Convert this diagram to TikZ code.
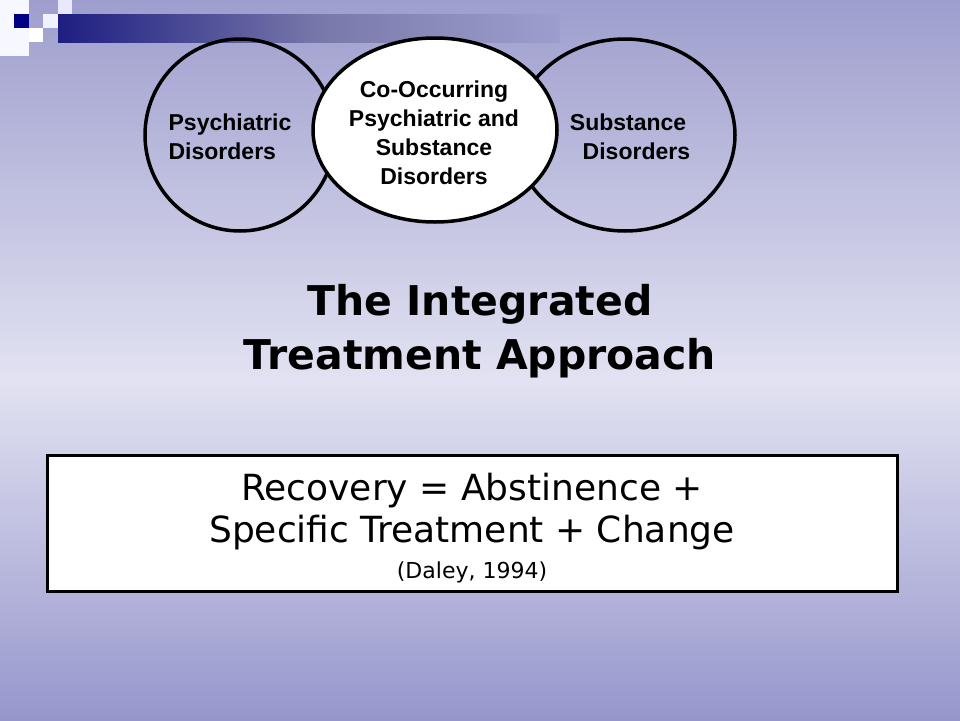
\documentclass[tikz,border=0pt]{standalone}
\usepackage{fontspec}
\setmainfont{DejaVu Sans}
\newfontfamily\arialf{Liberation Sans}
\definecolor{bgtop}{RGB}{158,158,206}
\definecolor{bgmid}{RGB}{226,226,242}
\definecolor{bgbot}{RGB}{150,150,204}
\definecolor{navy}{RGB}{0,0,130}
\definecolor{bardark}{RGB}{30,30,130}
\definecolor{barmid}{RGB}{120,120,170}
\begin{document}
\begin{tikzpicture}[x=1pt,y=-1pt,
  circ/.style={draw=black,line width=3.5pt},
  lbl/.style={font=\arialf\bfseries\fontsize{23}{29}\selectfont,align=center}]
\useasboundingbox (0,0) rectangle (960,720);
\shade[top color=bgtop,bottom color=bgmid] (0,0) rectangle (960,380);
\shade[top color=bgmid,bottom color=bgbot] (0,380) rectangle (960,720);
% corner squares
\fill[white!85!blue!20] (0,0) rectangle (29,56);
\fill[white] (29,28) rectangle (43,42);
\fill[white!70!blue!20] (43,14) rectangle (58,28);
\fill[white!70!blue!30] (58,0) rectangle (72,14);
\fill[navy] (14,14) rectangle (29,28);
\shade[left color=bardark,right color=barmid] (58,14) rectangle (320,42);
\shade[left color=barmid,right color=bgtop] (320,14) rectangle (560,42);
\draw[circ] (240,135) ellipse [x radius=95,y radius=96];
\draw[circ] (625,135) ellipse [x radius=110,y radius=96];
\draw[circ,fill=white] (435,130) ellipse [x radius=122,y radius=92];
\node[lbl,align=left] (p) at (230,137) {Psychiatric\\Disorders};
\node[lbl,align=left] (s) at (630,137) {Substance\\\ \ Disorders};
\node[lbl] (c) at (434,133) {Co-Occurring\\Psychiatric and\\Substance\\Disorders};
\node[font=\bfseries\fontsize{41}{54}\selectfont,align=center] (t) at (480,331) {The Integrated\\Treatment Approach};
\node[draw=black,line width=3pt,fill=white,minimum width=850,minimum height=136,inner sep=0] (b) at (472,523) {};
\node[align=center,font=\fontsize{36}{42}\selectfont] (r) at (472,512) {Recovery = Abstinence +\\Specific Treatment + Change};
\node[font=\fontsize{22}{26}\selectfont] (d) at (472,572) {(Daley, 1994)};
\end{tikzpicture}
\end{document}
